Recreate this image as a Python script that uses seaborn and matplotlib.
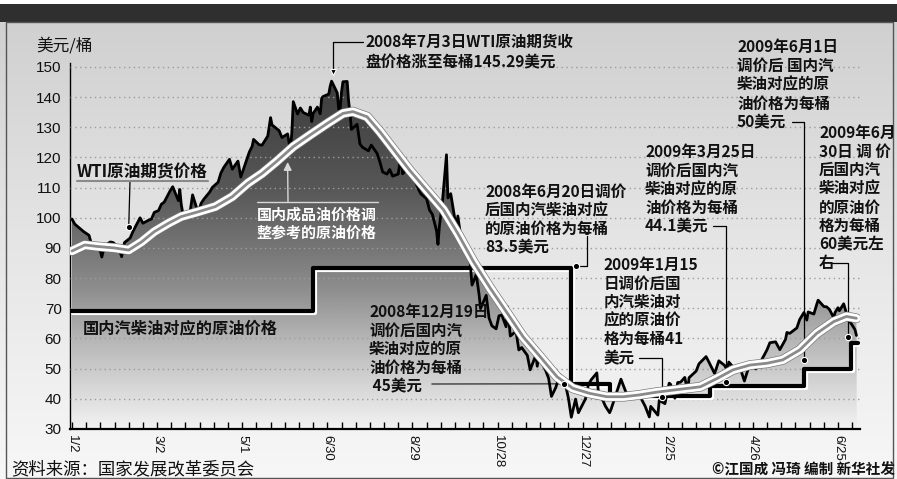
import numpy as np
import pandas as pd
import matplotlib
matplotlib.use("Agg")
import matplotlib.pyplot as plt
import matplotlib.dates as mdates
import matplotlib.patheffects as pe
from matplotlib.colors import LinearSegmentedColormap
from matplotlib.patches import Rectangle
from matplotlib.lines import Line2D
from matplotlib.ticker import FixedLocator
import seaborn as sns

# ---------------- data ----------------
wti_dates = [
    "2008-01-02", "2008-01-04", "2008-01-08", "2008-01-10", "2008-01-14", "2008-01-16", "2008-01-18",
    "2008-01-22", "2008-01-23", "2008-01-25", "2008-01-29", "2008-01-31", "2008-02-04", "2008-02-06",
    "2008-02-08", "2008-02-12", "2008-02-14", "2008-02-19", "2008-02-21", "2008-02-25", "2008-02-27",
    "2008-02-29", "2008-03-03", "2008-03-05", "2008-03-07", "2008-03-11", "2008-03-13", "2008-03-17",
    "2008-03-18", "2008-03-19", "2008-03-20", "2008-03-25", "2008-03-27", "2008-03-31", "2008-04-02",
    "2008-04-04", "2008-04-08", "2008-04-10", "2008-04-14", "2008-04-16", "2008-04-18", "2008-04-22",
    "2008-04-24", "2008-04-28", "2008-04-30", "2008-05-02", "2008-05-06", "2008-05-08", "2008-05-09",
    "2008-05-13", "2008-05-15", "2008-05-19", "2008-05-21", "2008-05-22", "2008-05-27", "2008-05-29",
    "2008-06-02", "2008-06-04", "2008-06-05", "2008-06-06", "2008-06-09", "2008-06-11", "2008-06-13",
    "2008-06-17", "2008-06-18", "2008-06-19", "2008-06-20", "2008-06-23", "2008-06-25", "2008-06-26",
    "2008-06-27", "2008-07-01", "2008-07-02", "2008-07-03", "2008-07-07", "2008-07-08", "2008-07-09",
    "2008-07-10", "2008-07-11", "2008-07-14", "2008-07-15", "2008-07-16", "2008-07-17", "2008-07-21",
    "2008-07-23", "2008-07-25", "2008-07-29", "2008-07-31", "2008-08-04", "2008-08-06", "2008-08-08",
    "2008-08-11", "2008-08-13", "2008-08-15", "2008-08-19", "2008-08-21", "2008-08-22", "2008-08-26",
    "2008-08-28", "2008-09-02", "2008-09-04", "2008-09-08", "2008-09-10", "2008-09-12", "2008-09-15",
    "2008-09-16", "2008-09-17", "2008-09-19", "2008-09-22", "2008-09-23", "2008-09-25", "2008-09-29",
    "2008-09-30", "2008-10-02", "2008-10-06", "2008-10-08", "2008-10-10", "2008-10-13", "2008-10-15",
    "2008-10-16", "2008-10-20", "2008-10-22", "2008-10-24", "2008-10-27", "2008-10-29", "2008-10-31",
    "2008-11-03", "2008-11-04", "2008-11-06", "2008-11-10", "2008-11-12", "2008-11-14", "2008-11-18",
    "2008-11-20", "2008-11-24", "2008-11-25", "2008-11-26", "2008-12-01", "2008-12-03", "2008-12-05",
    "2008-12-08", "2008-12-11", "2008-12-15", "2008-12-17", "2008-12-19", "2008-12-22", "2008-12-24",
    "2008-12-29", "2008-12-31", "2009-01-02", "2009-01-06", "2009-01-07", "2009-01-09", "2009-01-12",
    "2009-01-15", "2009-01-16", "2009-01-21", "2009-01-23", "2009-01-27", "2009-01-30", "2009-02-03",
    "2009-02-05", "2009-02-09", "2009-02-12", "2009-02-13", "2009-02-18", "2009-02-19", "2009-02-23",
    "2009-02-26", "2009-02-27", "2009-03-02", "2009-03-04", "2009-03-06", "2009-03-09", "2009-03-11",
    "2009-03-12", "2009-03-17", "2009-03-19", "2009-03-24", "2009-03-26", "2009-03-30", "2009-04-02",
    "2009-04-06", "2009-04-08", "2009-04-09", "2009-04-14", "2009-04-17", "2009-04-20", "2009-04-22",
    "2009-04-24", "2009-04-28", "2009-04-30", "2009-05-04", "2009-05-06", "2009-05-08", "2009-05-12",
    "2009-05-15", "2009-05-19", "2009-05-20", "2009-05-22", "2009-05-27", "2009-05-29", "2009-06-01",
    "2009-06-03", "2009-06-04", "2009-06-08", "2009-06-10", "2009-06-11", "2009-06-15", "2009-06-17",
    "2009-06-19", "2009-06-22", "2009-06-23", "2009-06-25", "2009-06-26", "2009-06-29", "2009-06-30",
    "2009-07-02", "2009-07-07", "2009-07-08",
]
wti_values = [
    99.6, 97.9, 96.3, 95.5, 94.2, 90.8, 90.6,
    89.0, 87.0, 90.7, 92.0, 91.8, 90.0, 87.1,
    91.8, 93.3, 95.5, 100.0, 98.2, 99.2, 99.6,
    101.8, 102.4, 104.5, 105.2, 108.8, 110.3, 105.7,
    109.4, 104.5, 101.8, 101.2, 107.6, 101.6, 104.8,
    106.2, 108.5, 110.1, 111.8, 114.9, 116.7, 119.4,
    116.1, 118.8, 113.5, 116.3, 121.8, 123.7, 126.0,
    124.2, 124.1, 127.1, 133.2, 130.8, 128.9, 126.6,
    127.8, 122.3, 128.5, 138.5, 134.4, 136.4, 134.9,
    134.0, 136.7, 131.9, 134.6, 136.7, 134.5, 139.6,
    140.2, 141.0, 143.6, 145.3, 141.4, 136.0, 136.1,
    141.7, 145.1, 145.2, 138.7, 134.6, 129.3, 131.0,
    124.4, 123.3, 122.2, 124.1, 121.4, 118.6, 115.2,
    114.5, 116.0, 113.8, 114.5, 121.2, 114.6, 116.3,
    115.6, 109.7, 107.9, 106.3, 102.6, 101.2, 95.7,
    91.2, 97.2, 104.6, 120.9, 106.6, 108.0, 96.4,
    100.6, 94.0, 87.8, 89.0, 77.7, 81.2, 74.5,
    69.9, 74.3, 66.8, 64.2, 63.2, 67.5, 67.8,
    63.9, 70.5, 60.8, 62.4, 56.2, 57.0, 54.4,
    49.6, 54.5, 50.8, 54.4, 49.3, 46.8, 40.8,
    43.7, 48.0, 44.5, 40.1, 33.9, 39.9, 35.4,
    40.0, 44.6, 46.3, 48.6, 42.6, 40.8, 37.6,
    35.4, 36.5, 43.6, 46.5, 41.6, 41.7, 40.8,
    41.2, 37.6, 34.0, 37.5, 34.6, 39.5, 38.4,
    45.2, 44.8, 40.2, 45.4, 45.5, 47.1, 42.3,
    47.0, 49.2, 51.6, 54.0, 52.2, 48.4, 52.6,
    51.1, 49.4, 52.2, 49.4, 50.3, 45.9, 48.9,
    51.6, 49.9, 51.1, 54.5, 56.3, 58.6, 58.9,
    56.3, 59.7, 62.0, 61.7, 63.5, 66.3, 68.6,
    66.1, 68.8, 68.1, 71.3, 72.7, 70.6, 70.5,
    69.6, 66.9, 68.7, 70.2, 69.2, 71.5, 69.9,
    66.7, 62.9, 61.0,
]

ref_dates = [
    "2008-01-02", "2008-01-11", "2008-01-20", "2008-02-01", "2008-02-11", "2008-02-20", "2008-02-29",
    "2008-03-10", "2008-03-19", "2008-03-31", "2008-04-12", "2008-04-24", "2008-05-05", "2008-05-15",
    "2008-05-25", "2008-06-06", "2008-06-18", "2008-06-30", "2008-07-11", "2008-07-18", "2008-07-28",
    "2008-08-06", "2008-08-16", "2008-08-27", "2008-09-08", "2008-09-20", "2008-09-30", "2008-10-11",
    "2008-10-23", "2008-11-04", "2008-11-15", "2008-11-27", "2008-12-09", "2008-12-20", "2009-01-01",
    "2009-01-13", "2009-01-25", "2009-02-05", "2009-02-17", "2009-03-01", "2009-03-20", "2009-04-01",
    "2009-04-12", "2009-04-24", "2009-05-06", "2009-05-17", "2009-05-29", "2009-06-10", "2009-06-22",
    "2009-07-01", "2009-07-08",
]
ref_values = [
    89.0, 91.0, 90.5, 90.0, 89.3, 92.0, 95.4,
    98.2, 100.4, 102.0, 103.7, 107.0, 111.5, 114.7,
    118.6, 123.6, 127.5, 131.3, 134.6, 135.2, 133.5,
    128.6, 122.5, 115.8, 109.2, 102.6, 94.8, 85.5,
    76.6, 68.3, 60.6, 54.0, 47.3, 43.5, 41.8,
    40.7, 40.7, 41.3, 42.2, 42.9, 44.0, 46.8,
    49.6, 51.2, 51.8, 52.9, 56.2, 61.7, 65.6,
    67.3, 66.7,
]

step_dates = ["2008-01-01", "2008-06-20", "2008-12-19", "2009-01-15", "2009-03-27",
              "2009-06-01", "2009-07-04", "2009-07-09"]
step_values = [69.0, 83.5, 45.0, 41.0, 44.1, 50.0, 58.5, 58.5]

ytick_values = [30, 40, 50, 60, 70, 80, 90, 100, 110, 120, 130, 140, 150]
xtick_dates = ["2008-01-02", "2008-03-02", "2008-05-01", "2008-06-30", "2008-08-29",
               "2008-10-28", "2008-12-27", "2009-02-25", "2009-04-26", "2009-06-25"]
xtick_labels = ["1/2", "3/2", "5/1", "6/30", "8/29", "10/28", "12/27", "2/25", "4/26", "6/25"]

# annotation anchor points (date, price)
anno_names = ["peak", "wti", "ref", "a835", "a45", "a41", "a441", "a50", "a60"]
anno_dates = ["2008-07-04", "2008-02-11", "2008-06-02", "2008-12-22", "2008-12-14",
              "2009-02-21", "2009-04-07", "2009-06-01", "2009-07-02"]
anno_values = [148.3, 97.0, 118.5, 84.0, 45.0, 40.6, 45.6, 52.9, 60.5]

anno_texts = {
    "peak": ["2008年7月3日WTI原油期货收", "盘价格涨至每桶145.29美元"],
    "a50": ["2009年6月1日", "调价后 国内汽", "柴油对应的原", "油价格为每桶", "50美元"],
    "a60": ["2009年6月", "30日 调 价", "后国内汽", "柴油对应", "的原油价", "格为每桶", "60美元左", "右"],
    "a441": ["2009年3月25日", "调价后国内汽", "柴油对应的原", "油价格为每桶", "44.1美元"],
    "a835": ["2008年6月20日调价", "后国内汽柴油对应", "的原油价格为每桶", "83.5美元"],
    "a41": ["2009年1月15", "日调价后国", "内汽柴油对", "应的原油价", "格为每桶41", "美元"],
    "a45": ["2008年12月19日", "调价后国内汽", "柴油对应的原", "油价格为每桶", " 45美元"],
}

# ---------------- style ----------------
sns.set_theme(style="white")
plt.rcParams["font.family"] = ["Noto Sans CJK SC", "DejaVu Sans"]
plt.rcParams["axes.unicode_minus"] = False

W, H = 897, 479
fig = plt.figure(figsize=(W / 100, H / 100), dpi=100)


def fx(x):
    return x / W


def fy(y):
    return 1 - y / H


# background gradient, header bar and frame
bg = fig.add_axes([0, 0, 1, 1], zorder=-10)
bg.set_axis_off()
bg_cmap = LinearSegmentedColormap.from_list("bg", ["#d0d0d0", "#e6e6e6", "#f7f7f7"])
bg.imshow(np.linspace(0, 1, 256).reshape(-1, 1), aspect="auto", cmap=bg_cmap,
          extent=[0, 1, 0, fy(22)])
bg.add_patch(Rectangle((0, fy(22)), 1, 18 / H, color="#2f2f2f", lw=0))
bg.add_patch(Rectangle((fx(6), fy(478)), fx(887), 456 / H, fill=False, ec="#555555", lw=1))
bg.set_xlim(0, 1)
bg.set_ylim(0, 1)

# main axes
ax = fig.add_axes([fx(70), fy(429), fx(860) - fx(70), (429 - 63) / H])
ax.patch.set_alpha(0)
PXD = 1.4185  # pixels per day
d0 = mdates.date2num(pd.Timestamp("2008-01-02"))
x_lo, x_hi = d0 - 2 / PXD, d0 + 788 / PXD
y_lo, y_hi = 30, 30 + (429 - 63) / 3.017

wti_x = mdates.date2num(pd.to_datetime(wti_dates))
ref_x = mdates.date2num(pd.to_datetime(ref_dates))
step_x = mdates.date2num(pd.to_datetime(step_dates))

df_wti = pd.DataFrame({"x": wti_x, "y": wti_values})
df_ref = pd.DataFrame({"x": ref_x, "y": ref_values})
df_step = pd.DataFrame({"x": step_x, "y": step_values})

# gradient fills under WTI and reference curves
fill_cmap = LinearSegmentedColormap.from_list(
    "fill",
    [(0.0, (0.95,) * 3), (0.124, (0.83,) * 3), (0.247, (0.71,) * 3), (0.379, (0.56,) * 3),
     (0.495, (0.46,) * 3), (0.660, (0.34,) * 3), (1.0, (0.22,) * 3)])
grad = np.linspace(y_lo, y_hi, 400).reshape(-1, 1)
for df in (df_wti, df_ref):
    coll = ax.fill_between(df["x"], df["y"], 30, facecolor="none", edgecolor="none")
    im = ax.imshow(grad, extent=[x_lo, x_hi, y_lo, y_hi], origin="lower", aspect="auto",
                   cmap=fill_cmap, vmin=y_lo, vmax=y_hi, zorder=1)
    im.set_clip_path(coll.get_paths()[0], transform=ax.transData)

# domestic price step line
sns.lineplot(data=df_step, x="x", y="y", ax=ax, drawstyle="steps-post", color="black",
             lw=3.0, zorder=3, estimator=None)
ax.lines[-1].set_path_effects([pe.SimpleLineShadow(offset=(1.4, -1.4), shadow_color="white", alpha=1.0),
                               pe.Normal()])
# WTI line
sns.lineplot(data=df_wti, x="x", y="y", ax=ax, color="black", lw=2.0, zorder=4, estimator=None)
# reference curve band
sns.lineplot(data=df_ref, x="x", y="y", ax=ax, color="#8a8a8a", lw=2.0, zorder=5, estimator=None)
ax.lines[-1].set_path_effects([pe.Stroke(linewidth=7.0, foreground="#777777"),
                               pe.Stroke(linewidth=6.0, foreground="white"),
                               pe.Normal()])

ax.set_xlim(x_lo, x_hi)
ax.set_ylim(y_lo, y_hi)
ax.set_xlabel("")
ax.set_ylabel("")

# axes styling
for s in ("top", "right"):
    ax.spines[s].set_visible(False)
ax.spines["left"].set_color("black")
ax.spines["left"].set_linewidth(1.0)
ax.spines["bottom"].set_color("black")
ax.spines["bottom"].set_linewidth(1.6)
ax.spines["bottom"].set_zorder(6)

ax.set_yticks(ytick_values)
ax.set_yticklabels([str(v) for v in ytick_values], fontsize=11, family="Liberation Sans", color="#111111")
ax.tick_params(axis="y", length=0, pad=6)
ax.set_xticks(mdates.date2num(pd.to_datetime(xtick_dates)))
ax.set_xticklabels(xtick_labels, rotation=-90, fontsize=9.5, family="Liberation Sans", color="#111111")
ax.xaxis.set_minor_locator(FixedLocator(d0 + np.arange(0, 555, 10)))
ax.tick_params(axis="x", which="both", direction="in", length=5, width=1.0, color="black",
               bottom=True, pad=4)
ax.yaxis.grid(True, linestyle=(0, (1, 2.5)), color="#9c9c9c", lw=1.0)
ax.xaxis.grid(False)
ax.set_axisbelow(False)


# ---------------- texts & connectors ----------------
def txt(x, y, s, size=11.5, weight="bold", color="#111111", ha="left"):
    fig.text(fx(x), fy(y), s, fontsize=size, fontweight=weight, color=color, ha=ha, va="center")


anchors = {n: (mdates.date2num(pd.Timestamp(d)), v) for n, d, v in zip(anno_names, anno_dates, anno_values)}


def connector(name, start, angles=None, color="black", arrow="-", lw=0.9):
    cs = "arc3" if angles is None else "angle,angleA=%d,angleB=%d,rad=0" % angles
    ax.annotate("", xy=anchors[name], xycoords="data", xytext=(start[0], H - start[1]),
                textcoords="figure pixels", annotation_clip=False,
                arrowprops=dict(arrowstyle=arrow, color=color, lw=lw, shrinkA=0, shrinkB=0,
                                connectionstyle=cs))


txt(36, 46, "美元/桶", size=12, weight="medium")

# annotation text blocks (left x, first line y, line step)
blocks = {
    "peak": (365, 42, 20.0),
    "a50": (737, 47, 18.8),
    "a60": (819, 133, 18.6),
    "a441": (645, 152, 18.6),
    "a835": (485, 192, 18.5),
    "a41": (604, 265, 18.6),
    "a45": (369, 312, 18.7),
}
for name, (x0, y0, dy) in blocks.items():
    for i, line in enumerate(anno_texts[name]):
        txt(x0, y0 + i * dy, line, size=11.2)

connector("peak", (363, 42), (0, 90))
connector("a50", (792, 122), (0, 90))
connector("a60", (832, 263), (0, 90))
connector("a441", (713, 226), (0, 90))
connector("a835", (587, 236), (90, 0))
connector("a41", (639, 358), (0, 90))
connector("a45", (432, 384), None, color="#555555", lw=1.2)
connector("wti", (130, 181))
connector("ref", (288, 202), None, color="#d8d8d8", arrow="-|>,head_length=0.4,head_width=0.2", lw=1.0)

mk = ["v" if n == "peak" else "o" for n in anno_names]
for n, m in zip(anno_names, mk):
    if n == "ref":
        continue
    ax.plot([anchors[n][0]], [anchors[n][1]], marker=m, ms=4.5, color="black", mec="white",
            mew=0.8, zorder=8, clip_on=False)

# series labels
txt(77, 172, "WTI原油期货价格", size=12, weight="bold")
fig.add_artist(Line2D([fx(77), fx(208)], [fy(181), fy(181)], color="#8a8a8a", lw=1.5))
txt(257, 215, "国内成品油价格调", size=10.8, weight="bold", color="white")
txt(257, 233, "整参考的原油价格", size=10.8, weight="bold", color="white")
fig.add_artist(Line2D([fx(257), fx(378)], [fy(202), fy(202)], color="#d8d8d8", lw=1.0))
txt(83, 328, "国内汽柴油对应的原油价格", size=11.7, weight="bold")

# footer
txt(11, 469, "资料来源：国家发展改革委员会", size=12.5, weight="medium")
txt(895, 469, "©江国成 冯琦 编制 新华社发", size=10.5, weight="bold", ha="right")

fig.savefig("out.png", dpi=100)
